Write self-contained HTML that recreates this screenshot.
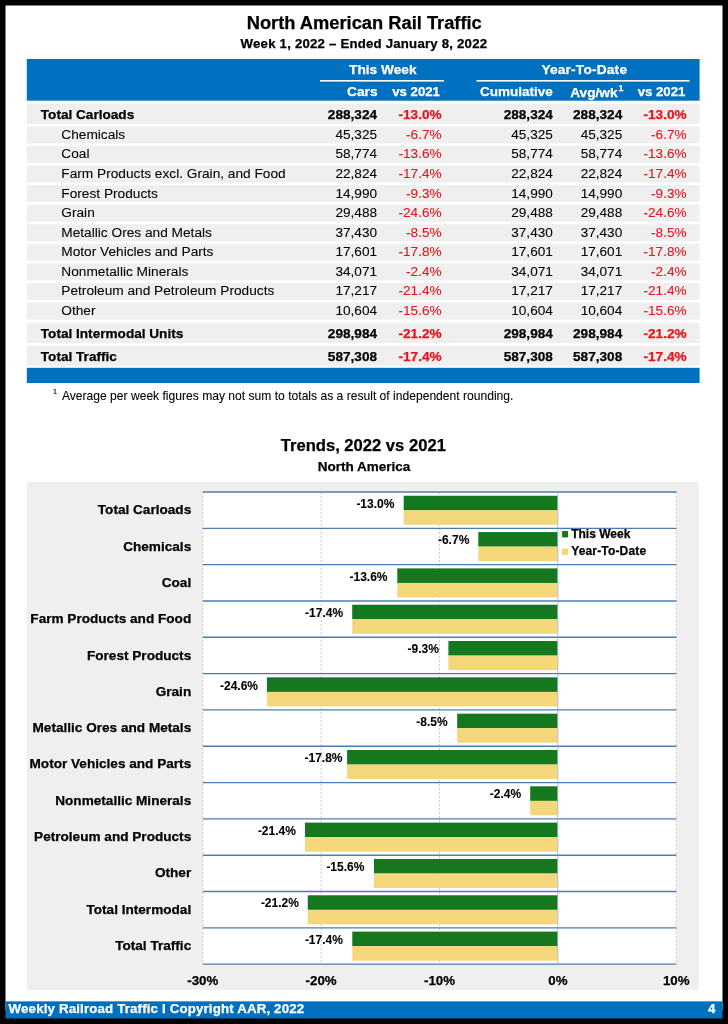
<!DOCTYPE html>
<html lang="en"><head><meta charset="utf-8"><title>North American Rail Traffic</title>
<style>
html,body{margin:0;padding:0;}
body{width:728px;height:1024px;background:#000;position:relative;overflow:hidden;font-family:"Liberation Sans",sans-serif;color:#000;-webkit-text-stroke:0.08px currentColor;}
svg{position:absolute;left:0;top:0;}
.t{position:absolute;white-space:nowrap;line-height:1;}
.b{font-weight:bold;-webkit-text-stroke:0.25px currentColor;}
.red{color:#e8131b;}
.w{color:#fff;}
</style></head><body>
<svg width="728" height="1024" viewBox="0 0 728 1024">
<rect x="5.50" y="5.50" width="717.00" height="1004.50" fill="#fff"/>
<rect x="26.80" y="59.00" width="672.80" height="41.70" fill="#0070c0"/>
<rect x="320.00" y="80.00" width="124.00" height="1.60" fill="#fff"/>
<rect x="476.50" y="80.00" width="213.00" height="1.60" fill="#fff"/>
<rect x="26.70" y="103.80" width="673.00" height="20.30" fill="#efefef"/>
<rect x="26.70" y="126.40" width="673.00" height="17.00" fill="#efefef"/>
<rect x="26.70" y="145.97" width="673.00" height="17.00" fill="#efefef"/>
<rect x="26.70" y="165.54" width="673.00" height="17.00" fill="#efefef"/>
<rect x="26.70" y="185.11" width="673.00" height="17.00" fill="#efefef"/>
<rect x="26.70" y="204.68" width="673.00" height="17.00" fill="#efefef"/>
<rect x="26.70" y="224.25" width="673.00" height="17.00" fill="#efefef"/>
<rect x="26.70" y="243.82" width="673.00" height="17.00" fill="#efefef"/>
<rect x="26.70" y="263.39" width="673.00" height="17.00" fill="#efefef"/>
<rect x="26.70" y="282.96" width="673.00" height="17.00" fill="#efefef"/>
<rect x="26.70" y="302.53" width="673.00" height="17.00" fill="#efefef"/>
<rect x="26.70" y="322.80" width="673.00" height="20.30" fill="#efefef"/>
<rect x="26.70" y="345.50" width="673.00" height="20.30" fill="#efefef"/>
<rect x="26.80" y="367.80" width="672.80" height="15.20" fill="#0070c0"/>
<rect x="26.80" y="482.10" width="672.00" height="507.80" fill="#efefef"/>
<rect x="202.80" y="492.00" width="473.60" height="472.16" fill="#fff"/>
<line x1="202.80" y1="492.00" x2="202.80" y2="964.16" stroke="#cbcbcb" stroke-width="1" stroke-dasharray="2.2 1.8"/>
<line x1="321.15" y1="492.00" x2="321.15" y2="964.16" stroke="#cbcbcb" stroke-width="1" stroke-dasharray="2.2 1.8"/>
<line x1="439.50" y1="492.00" x2="439.50" y2="964.16" stroke="#cbcbcb" stroke-width="1" stroke-dasharray="2.2 1.8"/>
<line x1="676.20" y1="492.00" x2="676.20" y2="964.16" stroke="#cbcbcb" stroke-width="1" stroke-dasharray="2.2 1.8"/>
<rect x="403.70" y="495.75" width="153.80" height="14.60" fill="#15781f"/>
<rect x="403.70" y="510.30" width="153.80" height="14.50" fill="#f4d67b"/>
<rect x="478.30" y="532.07" width="79.20" height="14.60" fill="#15781f"/>
<rect x="478.30" y="546.62" width="79.20" height="14.50" fill="#f4d67b"/>
<rect x="397.30" y="568.39" width="160.20" height="14.60" fill="#15781f"/>
<rect x="397.30" y="582.94" width="160.20" height="14.50" fill="#f4d67b"/>
<rect x="352.20" y="604.71" width="205.30" height="14.60" fill="#15781f"/>
<rect x="352.20" y="619.26" width="205.30" height="14.50" fill="#f4d67b"/>
<rect x="448.40" y="641.03" width="109.10" height="14.60" fill="#15781f"/>
<rect x="448.40" y="655.58" width="109.10" height="14.50" fill="#f4d67b"/>
<rect x="266.90" y="677.35" width="290.60" height="14.60" fill="#15781f"/>
<rect x="266.90" y="691.90" width="290.60" height="14.50" fill="#f4d67b"/>
<rect x="457.20" y="713.67" width="100.30" height="14.60" fill="#15781f"/>
<rect x="457.20" y="728.22" width="100.30" height="14.50" fill="#f4d67b"/>
<rect x="347.10" y="749.99" width="210.40" height="14.60" fill="#15781f"/>
<rect x="347.10" y="764.54" width="210.40" height="14.50" fill="#f4d67b"/>
<rect x="530.20" y="786.31" width="27.30" height="14.60" fill="#15781f"/>
<rect x="530.20" y="800.86" width="27.30" height="14.50" fill="#f4d67b"/>
<rect x="305.00" y="822.63" width="252.50" height="14.60" fill="#15781f"/>
<rect x="305.00" y="837.18" width="252.50" height="14.50" fill="#f4d67b"/>
<rect x="374.00" y="858.95" width="183.50" height="14.60" fill="#15781f"/>
<rect x="374.00" y="873.50" width="183.50" height="14.50" fill="#f4d67b"/>
<rect x="307.75" y="895.27" width="249.75" height="14.60" fill="#15781f"/>
<rect x="307.75" y="909.82" width="249.75" height="14.50" fill="#f4d67b"/>
<rect x="352.30" y="931.59" width="205.20" height="14.60" fill="#15781f"/>
<rect x="352.30" y="946.14" width="205.20" height="14.50" fill="#f4d67b"/>
<line x1="202.80" y1="492.00" x2="676.40" y2="492.00" stroke="#4c7db2" stroke-width="1.35"/>
<line x1="202.80" y1="528.32" x2="676.40" y2="528.32" stroke="#4c7db2" stroke-width="1.35"/>
<line x1="202.80" y1="564.64" x2="676.40" y2="564.64" stroke="#4c7db2" stroke-width="1.35"/>
<line x1="202.80" y1="600.96" x2="676.40" y2="600.96" stroke="#4c7db2" stroke-width="1.35"/>
<line x1="202.80" y1="637.28" x2="676.40" y2="637.28" stroke="#4c7db2" stroke-width="1.35"/>
<line x1="202.80" y1="673.60" x2="676.40" y2="673.60" stroke="#4c7db2" stroke-width="1.35"/>
<line x1="202.80" y1="709.92" x2="676.40" y2="709.92" stroke="#4c7db2" stroke-width="1.35"/>
<line x1="202.80" y1="746.24" x2="676.40" y2="746.24" stroke="#4c7db2" stroke-width="1.35"/>
<line x1="202.80" y1="782.56" x2="676.40" y2="782.56" stroke="#4c7db2" stroke-width="1.35"/>
<line x1="202.80" y1="818.88" x2="676.40" y2="818.88" stroke="#4c7db2" stroke-width="1.35"/>
<line x1="202.80" y1="855.20" x2="676.40" y2="855.20" stroke="#4c7db2" stroke-width="1.35"/>
<line x1="202.80" y1="891.52" x2="676.40" y2="891.52" stroke="#4c7db2" stroke-width="1.35"/>
<line x1="202.80" y1="927.84" x2="676.40" y2="927.84" stroke="#4c7db2" stroke-width="1.35"/>
<line x1="202.80" y1="964.16" x2="676.40" y2="964.16" stroke="#4c7db2" stroke-width="1.35"/>
<line x1="557.80" y1="491.30" x2="557.80" y2="964.86" stroke="#8fa3ba" stroke-width="0.7"/>
<rect x="562.10" y="531.00" width="6.00" height="6.40" fill="#15781f"/>
<rect x="562.10" y="548.60" width="6.00" height="6.40" fill="#f4d67b"/>
<rect x="5.50" y="1001.35" width="717.00" height="17.15" fill="#0070c0"/>
</svg>
<div class="t b" style="top:14px;font-size:18.3px;left:164.25px;width:400px;text-align:center;">North American Rail Traffic</div>
<div class="t b" style="top:37px;font-size:13.2px;left:163.96px;width:400px;text-align:center;letter-spacing:0.22px;">Week 1, 2022 – Ended January 8, 2022</div>
<div class="t b w" style="top:63px;font-size:13.7px;left:182.8px;width:400px;text-align:center;">This Week</div>
<div class="t b w" style="top:63px;font-size:13.7px;left:384.3px;width:400px;text-align:center;letter-spacing:0.2px;">Year-To-Date</div>
<div class="t b w" style="top:85px;font-size:13.7px;right:350.5px;">Cars</div>
<div class="t b w" style="top:85px;font-size:13.2px;right:288.1px;">vs 2021</div>
<div class="t b w" style="top:85px;font-size:13.5px;right:175.2px;">Cumulative</div>
<div class="t b w" style="top:86px;font-size:13.7px;right:105.4px;">Avg/wk<span style="font-size:9px;position:relative;top:-6.2px;left:0.8px;">1</span></div>
<div class="t b w" style="top:85px;font-size:13.2px;right:42.7px;">vs 2021</div>
<div class="t b" style="top:108px;font-size:13.6px;left:40.8px;">Total Carloads</div>
<div class="t b" style="top:108px;font-size:13.6px;right:351px;">288,324</div>
<div class="t b red" style="top:108px;font-size:13.6px;right:286.4px;">-13.0%</div>
<div class="t b" style="top:108px;font-size:13.6px;right:175.2px;">288,324</div>
<div class="t b" style="top:108px;font-size:13.6px;right:105.8px;">288,324</div>
<div class="t b red" style="top:108px;font-size:13.6px;right:41.4px;">-13.0%</div>
<div class="t" style="top:128px;font-size:13.7px;left:61.3px;">Chemicals</div>
<div class="t" style="top:128px;font-size:13.6px;right:351px;">45,325</div>
<div class="t red" style="top:128px;font-size:13.6px;right:286.4px;">-6.7%</div>
<div class="t" style="top:128px;font-size:13.6px;right:175.2px;">45,325</div>
<div class="t" style="top:128px;font-size:13.6px;right:105.8px;">45,325</div>
<div class="t red" style="top:128px;font-size:13.6px;right:41.4px;">-6.7%</div>
<div class="t" style="top:147px;font-size:13.7px;left:61.3px;">Coal</div>
<div class="t" style="top:147px;font-size:13.6px;right:351px;">58,774</div>
<div class="t red" style="top:147px;font-size:13.6px;right:286.4px;">-13.6%</div>
<div class="t" style="top:147px;font-size:13.6px;right:175.2px;">58,774</div>
<div class="t" style="top:147px;font-size:13.6px;right:105.8px;">58,774</div>
<div class="t red" style="top:147px;font-size:13.6px;right:41.4px;">-13.6%</div>
<div class="t" style="top:167px;font-size:13.7px;left:61.3px;">Farm Products excl. Grain, and Food</div>
<div class="t" style="top:167px;font-size:13.6px;right:351px;">22,824</div>
<div class="t red" style="top:167px;font-size:13.6px;right:286.4px;">-17.4%</div>
<div class="t" style="top:167px;font-size:13.6px;right:175.2px;">22,824</div>
<div class="t" style="top:167px;font-size:13.6px;right:105.8px;">22,824</div>
<div class="t red" style="top:167px;font-size:13.6px;right:41.4px;">-17.4%</div>
<div class="t" style="top:187px;font-size:13.7px;left:61.3px;">Forest Products</div>
<div class="t" style="top:187px;font-size:13.6px;right:351px;">14,990</div>
<div class="t red" style="top:187px;font-size:13.6px;right:286.4px;">-9.3%</div>
<div class="t" style="top:187px;font-size:13.6px;right:175.2px;">14,990</div>
<div class="t" style="top:187px;font-size:13.6px;right:105.8px;">14,990</div>
<div class="t red" style="top:187px;font-size:13.6px;right:41.4px;">-9.3%</div>
<div class="t" style="top:206px;font-size:13.7px;left:61.3px;">Grain</div>
<div class="t" style="top:206px;font-size:13.6px;right:351px;">29,488</div>
<div class="t red" style="top:206px;font-size:13.6px;right:286.4px;">-24.6%</div>
<div class="t" style="top:206px;font-size:13.6px;right:175.2px;">29,488</div>
<div class="t" style="top:206px;font-size:13.6px;right:105.8px;">29,488</div>
<div class="t red" style="top:206px;font-size:13.6px;right:41.4px;">-24.6%</div>
<div class="t" style="top:226px;font-size:13.7px;left:61.3px;">Metallic Ores and Metals</div>
<div class="t" style="top:226px;font-size:13.6px;right:351px;">37,430</div>
<div class="t red" style="top:226px;font-size:13.6px;right:286.4px;">-8.5%</div>
<div class="t" style="top:226px;font-size:13.6px;right:175.2px;">37,430</div>
<div class="t" style="top:226px;font-size:13.6px;right:105.8px;">37,430</div>
<div class="t red" style="top:226px;font-size:13.6px;right:41.4px;">-8.5%</div>
<div class="t" style="top:245px;font-size:13.7px;left:61.3px;">Motor Vehicles and Parts</div>
<div class="t" style="top:245px;font-size:13.6px;right:351px;">17,601</div>
<div class="t red" style="top:245px;font-size:13.6px;right:286.4px;">-17.8%</div>
<div class="t" style="top:245px;font-size:13.6px;right:175.2px;">17,601</div>
<div class="t" style="top:245px;font-size:13.6px;right:105.8px;">17,601</div>
<div class="t red" style="top:245px;font-size:13.6px;right:41.4px;">-17.8%</div>
<div class="t" style="top:265px;font-size:13.7px;left:61.3px;">Nonmetallic Minerals</div>
<div class="t" style="top:265px;font-size:13.6px;right:351px;">34,071</div>
<div class="t red" style="top:265px;font-size:13.6px;right:286.4px;">-2.4%</div>
<div class="t" style="top:265px;font-size:13.6px;right:175.2px;">34,071</div>
<div class="t" style="top:265px;font-size:13.6px;right:105.8px;">34,071</div>
<div class="t red" style="top:265px;font-size:13.6px;right:41.4px;">-2.4%</div>
<div class="t" style="top:284px;font-size:13.7px;left:61.3px;">Petroleum and Petroleum Products</div>
<div class="t" style="top:284px;font-size:13.6px;right:351px;">17,217</div>
<div class="t red" style="top:284px;font-size:13.6px;right:286.4px;">-21.4%</div>
<div class="t" style="top:284px;font-size:13.6px;right:175.2px;">17,217</div>
<div class="t" style="top:284px;font-size:13.6px;right:105.8px;">17,217</div>
<div class="t red" style="top:284px;font-size:13.6px;right:41.4px;">-21.4%</div>
<div class="t" style="top:304px;font-size:13.7px;left:61.3px;">Other</div>
<div class="t" style="top:304px;font-size:13.6px;right:351px;">10,604</div>
<div class="t red" style="top:304px;font-size:13.6px;right:286.4px;">-15.6%</div>
<div class="t" style="top:304px;font-size:13.6px;right:175.2px;">10,604</div>
<div class="t" style="top:304px;font-size:13.6px;right:105.8px;">10,604</div>
<div class="t red" style="top:304px;font-size:13.6px;right:41.4px;">-15.6%</div>
<div class="t b" style="top:327px;font-size:13.6px;left:40.8px;">Total Intermodal Units</div>
<div class="t b" style="top:327px;font-size:13.6px;right:351px;">298,984</div>
<div class="t b red" style="top:327px;font-size:13.6px;right:286.4px;">-21.2%</div>
<div class="t b" style="top:327px;font-size:13.6px;right:175.2px;">298,984</div>
<div class="t b" style="top:327px;font-size:13.6px;right:105.8px;">298,984</div>
<div class="t b red" style="top:327px;font-size:13.6px;right:41.4px;">-21.2%</div>
<div class="t b" style="top:350px;font-size:13.6px;left:40.8px;">Total Traffic</div>
<div class="t b" style="top:350px;font-size:13.6px;right:351px;">587,308</div>
<div class="t b red" style="top:350px;font-size:13.6px;right:286.4px;">-17.4%</div>
<div class="t b" style="top:350px;font-size:13.6px;right:175.2px;">587,308</div>
<div class="t b" style="top:350px;font-size:13.6px;right:105.8px;">587,308</div>
<div class="t b red" style="top:350px;font-size:13.6px;right:41.4px;">-17.4%</div>
<div class="t" style="top:388px;font-size:8px;left:52.8px;">1</div>
<div class="t" style="top:390px;font-size:12.1px;left:61.9px;">Average per week figures may not sum to totals as a result of independent rounding.</div>
<div class="t b" style="top:438px;font-size:16.6px;left:163.3px;width:400px;text-align:center;">Trends, 2022 vs 2021</div>
<div class="t b" style="top:460px;font-size:13.5px;left:164.0px;width:400px;text-align:center;">North America</div>
<div class="t b" style="top:498px;font-size:12px;right:333.6px;-webkit-text-stroke-width:0.1px;">-13.0%</div>
<div class="t b" style="top:503px;font-size:13.6px;right:536.8px;">Total Carloads</div>
<div class="t b" style="top:534px;font-size:12px;right:258.7px;-webkit-text-stroke-width:0.1px;">-6.7%</div>
<div class="t b" style="top:540px;font-size:13.6px;right:536.8px;">Chemicals</div>
<div class="t b" style="top:571px;font-size:12px;right:340.5px;-webkit-text-stroke-width:0.1px;">-13.6%</div>
<div class="t b" style="top:576px;font-size:13.6px;right:536.8px;">Coal</div>
<div class="t b" style="top:607px;font-size:12px;right:384.9px;-webkit-text-stroke-width:0.1px;">-17.4%</div>
<div class="t b" style="top:612px;font-size:13.6px;right:536.8px;">Farm Products and Food</div>
<div class="t b" style="top:643px;font-size:12px;right:289.1px;-webkit-text-stroke-width:0.1px;">-9.3%</div>
<div class="t b" style="top:649px;font-size:13.6px;right:536.8px;">Forest Products</div>
<div class="t b" style="top:680px;font-size:12px;right:470.0px;-webkit-text-stroke-width:0.1px;">-24.6%</div>
<div class="t b" style="top:685px;font-size:13.6px;right:536.8px;">Grain</div>
<div class="t b" style="top:716px;font-size:12px;right:280.4px;-webkit-text-stroke-width:0.1px;">-8.5%</div>
<div class="t b" style="top:721px;font-size:13.6px;right:536.8px;">Metallic Ores and Metals</div>
<div class="t b" style="top:752px;font-size:12px;right:385.5px;-webkit-text-stroke-width:0.1px;">-17.8%</div>
<div class="t b" style="top:757px;font-size:13.6px;right:536.8px;">Motor Vehicles and Parts</div>
<div class="t b" style="top:788px;font-size:12px;right:206.9px;-webkit-text-stroke-width:0.1px;">-2.4%</div>
<div class="t b" style="top:794px;font-size:13.6px;right:536.8px;">Nonmetallic Minerals</div>
<div class="t b" style="top:825px;font-size:12px;right:432.1px;-webkit-text-stroke-width:0.1px;">-21.4%</div>
<div class="t b" style="top:830px;font-size:13.6px;right:536.8px;">Petroleum and Products</div>
<div class="t b" style="top:861px;font-size:12px;right:363.6px;-webkit-text-stroke-width:0.1px;">-15.6%</div>
<div class="t b" style="top:866px;font-size:13.6px;right:536.8px;">Other</div>
<div class="t b" style="top:897px;font-size:12px;right:429.1px;-webkit-text-stroke-width:0.1px;">-21.2%</div>
<div class="t b" style="top:903px;font-size:13.6px;right:536.8px;">Total Intermodal</div>
<div class="t b" style="top:934px;font-size:12px;right:385.1px;-webkit-text-stroke-width:0.1px;">-17.4%</div>
<div class="t b" style="top:939px;font-size:13.6px;right:536.8px;">Total Traffic</div>
<div class="t b" style="top:528px;font-size:12px;left:571.2px;">This Week</div>
<div class="t b" style="top:545px;font-size:12px;left:571.2px;letter-spacing:0.16px;">Year-To-Date</div>
<div class="t b" style="top:974px;font-size:13.3px;left:2.8px;width:400px;text-align:center;">-30%</div>
<div class="t b" style="top:974px;font-size:13.3px;left:121.15px;width:400px;text-align:center;">-20%</div>
<div class="t b" style="top:974px;font-size:13.3px;left:239.5px;width:400px;text-align:center;">-10%</div>
<div class="t b" style="top:974px;font-size:13.3px;left:357.85px;width:400px;text-align:center;">0%</div>
<div class="t b" style="top:974px;font-size:13.3px;left:476.2px;width:400px;text-align:center;">10%</div>
<div class="t b w" style="top:1002px;font-size:13.3px;left:8.6px;letter-spacing:0.15px;">Weekly Railroad Traffic I Copyright AAR, 2022</div>
<div class="t b w" style="top:1002px;font-size:13.3px;right:12.7px;">4</div>
</body></html>
